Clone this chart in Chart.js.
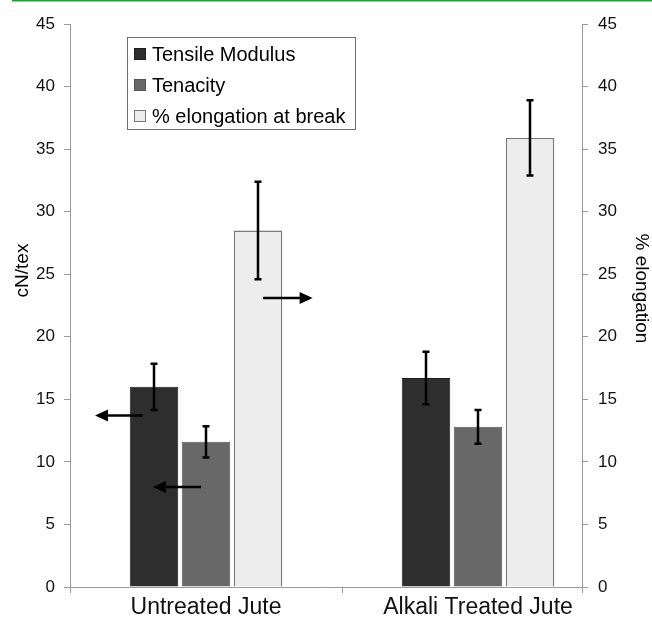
<!DOCTYPE html>
<html>
<head>
<meta charset="utf-8">
<script src="https://cdn.jsdelivr.net/npm/chart.js@4/dist/chart.umd.min.js"></script>
<style>
  body { margin: 0; background: #fff; }
  canvas { display: block; }
</style>
</head>
<body>
<canvas id="chartOne" width="652" height="619"></canvas>
<script>
    // data
    const categories = ["Untreated Jute", "Alkali Treated Jute"]
    const modulus = [16.0, 16.7]
    const modulusErr = [1.85, 2.1]
    const tenacity = [11.6, 12.8]
    const tenacityErr = [1.25, 1.35]
    const elongation = [28.5, 35.9]
    const elongationErr = [3.9, 3.0]
    const yTicks = [0, 5, 10, 15, 20, 25, 30, 35, 40, 45]

    // arrows (left axis value, x start, x end in category units)
    const arrowY = [13.7, 8.0, 23.1]
    const arrowFrom = [-0.232, -0.018, 0.21]
    const arrowTo = [-0.408, -0.195, 0.392]

    const FONT = "'Liberation Sans', Arial, sans-serif"
    const AXIS_GREY = "#9a9a9a"

    const toPoints = function(values){
        return values.map((v, i) => ({x: i, y: v}))
    }

    //error bars on top of every bar
    const errorBars = {
        id: "errorBars",
        afterDatasetsDraw(chart){
            const ctx = chart.ctx
            ctx.save()
            ctx.strokeStyle = "#000"
            ctx.lineWidth = 2.5
            chart.data.datasets.forEach((ds, d) => {
                const meta = chart.getDatasetMeta(d)
                const yScale = chart.scales[meta.yAxisID]
                meta.data.forEach((bar, i) => {
                    const v = ds.data[i].y
                    const e = ds.errors[i]
                    const top = yScale.getPixelForValue(v + e)
                    const bot = yScale.getPixelForValue(v - e)
                    ctx.beginPath()
                    ctx.moveTo(bar.x, top)
                    ctx.lineTo(bar.x, bot)
                    ctx.moveTo(bar.x - 3.5, top)
                    ctx.lineTo(bar.x + 3.5, top)
                    ctx.moveTo(bar.x - 3.5, bot)
                    ctx.lineTo(bar.x + 3.5, bot)
                    ctx.stroke()
                })
            })
            ctx.restore()
        }
    }

    //arrows, legend box, axis titles, green rule
    const extras = {
        id: "extras",
        beforeDraw(chart){
            const ctx = chart.ctx
            ctx.save()
            ctx.fillStyle = "#2e9a3e"
            ctx.fillRect(12, 0, chart.width - 12, 1.5)
            ctx.restore()
        },
        afterDraw(chart){
            const ctx = chart.ctx
            const area = chart.chartArea
            const xs = chart.scales.x
            const ys = chart.scales.y
            ctx.save()

            // corner tick on the x axis
            ctx.strokeStyle = AXIS_GREY
            ctx.lineWidth = 1
            ctx.beginPath()
            ctx.moveTo(Math.round(area.right) + 0.5, area.bottom)
            ctx.lineTo(Math.round(area.right) + 0.5, area.bottom + 6)
            ctx.stroke()

            // arrows
            ctx.strokeStyle = "#000"
            ctx.fillStyle = "#000"
            ctx.lineWidth = 2.5
            arrowY.forEach((yv, i) => {
                const y = ys.getPixelForValue(yv)
                const x0 = xs.getPixelForValue(arrowFrom[i])
                const x1 = xs.getPixelForValue(arrowTo[i])
                const dir = x1 > x0 ? 1 : -1
                ctx.beginPath()
                ctx.moveTo(x0, y)
                ctx.lineTo(x1 - dir * 10, y)
                ctx.stroke()
                ctx.beginPath()
                ctx.moveTo(x1, y)
                ctx.lineTo(x1 - dir * 13, y - 6)
                ctx.lineTo(x1 - dir * 13, y + 6)
                ctx.closePath()
                ctx.fill()
            })

            // legend
            const lx = area.left + 57
            const ly = area.top + 13
            ctx.lineWidth = 1
            ctx.strokeStyle = "#6e6e6e"
            ctx.strokeRect(Math.round(lx) + 0.5, Math.round(ly) + 0.5, 228, 92)
            ctx.font = "20px " + FONT
            ctx.textBaseline = "middle"
            chart.data.datasets.forEach((ds, i) => {
                const cy = ly + 17 + i * 31
                ctx.fillStyle = ds.backgroundColor
                ctx.fillRect(lx + 7, cy - 6, 12, 12)
                ctx.strokeStyle = ds.borderColor
                ctx.strokeRect(lx + 7.5, cy - 5.5, 11, 11)
                ctx.fillStyle = "#000"
                ctx.fillText(ds.label, lx + 25, cy + 1)
            })

            // axis titles
            ctx.font = "19px " + FONT
            ctx.textAlign = "center"
            ctx.fillStyle = "#000"
            ctx.save()
            ctx.translate(23, (area.top + area.bottom) / 2 - 35)
            ctx.rotate(-Math.PI / 2)
            ctx.fillText("cN/tex", 0, 0)
            ctx.restore()
            ctx.save()
            ctx.translate(641, (area.top + area.bottom) / 2 - 17)
            ctx.rotate(Math.PI / 2)
            ctx.fillText("% elongation", 0, 0)
            ctx.restore()

            ctx.restore()
        }
    }

    const yAxis = function(position){
        return {
            type: "linear",
            position: position,
            min: 0,
            max: 45,
            afterBuildTicks: scale => { scale.ticks = yTicks.map(v => ({value: v})) },
            afterFit: scale => { scale.width = 70 },
            grid: {
                drawOnChartArea: false,
                drawTicks: true,
                tickLength: 6,
                tickColor: AXIS_GREY
            },
            border: { color: AXIS_GREY },
            ticks: {
                color: "#111",
                padding: position === "left" ? 9 : 10,
                font: { family: FONT, size: 17 }
            }
        }
    }

    const firstChart = document.querySelector("#chartOne")

    const data = {
        datasets: [{
            label: "Tensile Modulus",
            backgroundColor: "#2e2e2e",
            borderColor: "#1c1c1c",
            borderWidth: 1,
            yAxisID: "y",
            data: toPoints(modulus),
            errors: modulusErr
        }, {
            label: "Tenacity",
            backgroundColor: "#686868",
            borderColor: "#555555",
            borderWidth: 1,
            yAxisID: "y",
            data: toPoints(tenacity),
            errors: tenacityErr
        }, {
            label: "% elongation at break",
            backgroundColor: "#ededed",
            borderColor: "#7a7a7a",
            borderWidth: 1.5,
            yAxisID: "y2",
            data: toPoints(elongation),
            errors: elongationErr
        }]
    }

    const config = {
        type: "bar",
        data: data,
        plugins: [errorBars, extras],
        options: {
            responsive: false,
            animation: false,
            devicePixelRatio: 1,
            categoryPercentage: 0.5735,
            barPercentage: 0.933,
            layout: { padding: { top: 24, left: 0, right: 0, bottom: 0 } },
            plugins: {
                legend: { display: false },
                tooltip: { enabled: false }
            },
            scales: {
                x: {
                    type: "linear",
                    offset: false,
                    min: -0.5,
                    max: -0.5 + 512 / 272,
                    afterBuildTicks: scale => { scale.ticks = categories.map((c, i) => ({value: i})) },
                    afterFit: scale => { scale.height = 32 },
                    grid: {
                        offset: true,
                        drawOnChartArea: false,
                        drawTicks: true,
                        tickLength: 6,
                        tickColor: AXIS_GREY
                    },
                    border: { color: AXIS_GREY },
                    ticks: {
                        autoSkip: false,
                        maxRotation: 0,
                        padding: 1,
                        color: "#111",
                        font: { family: FONT, size: 23 },
                        callback: value => categories[value]
                    }
                },
                y: yAxis("left"),
                y2: yAxis("right")
            }
        }
    }

    const myChart = new Chart(firstChart, config)
</script>
</body>
</html>
